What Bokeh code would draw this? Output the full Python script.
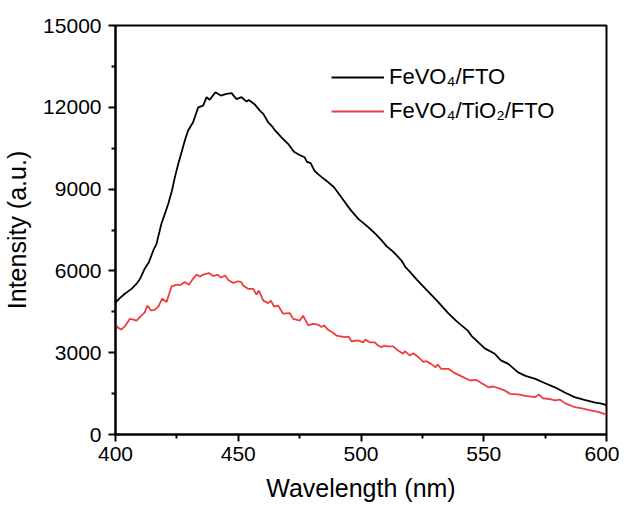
from bokeh.plotting import figure
from bokeh.models import FixedTicker, Legend, LegendItem, Range1d
from bokeh.embed import file_html
from bokeh.resources import INLINE

# ---- data ----
black_x = [400, 402, 403.8, 405, 406.5, 408.6, 410, 411.9, 413.6, 415.4, 416.7, 418.7, 420.1, 421.5, 423, 424.2,
           425.5, 426.9, 428.3, 429.6, 431.6, 433.7, 435.7, 437.1, 438.4, 440.7, 442.9, 445.2, 447.3, 449.3, 451.3,
           453.4, 454.3, 456.8, 458.8, 460.2, 462.2, 463.5, 465, 467.6, 470.3, 472, 473, 475, 477, 478, 479.5, 481,
           482.5, 484, 486, 489, 492, 494, 496, 499, 501, 503, 506, 508.5, 510.5, 512.5, 514, 516.5, 518, 519.5,
           523, 527, 531, 535.5, 539, 543.5, 545, 550.4, 554.5, 557, 560, 564, 567, 571, 575, 579, 583, 587, 591,
           595, 598, 600]
black_y = [4850, 5020, 5160, 5240, 5340, 5530, 5710, 6080, 6320, 6750, 6990, 7730, 8090, 8460, 8950, 9440, 9900,
           10350, 10800, 11150, 11450, 12000, 12060, 12370, 12280, 12550, 12430, 12490, 12520, 12300, 12370, 12210,
           12270, 12100, 11880, 11760, 11450, 11330, 11150, 10900, 10660, 10450, 10350, 10250, 10170, 10000, 9950,
           9680, 9550, 9440, 9300, 9070, 8700, 8450, 8210, 7900, 7750, 7600, 7350, 7110, 6900, 6750, 6620, 6380,
           6150, 6010, 5650, 5280, 4900, 4450, 4150, 3810, 3620, 3160, 2960, 2720, 2590, 2280, 2150, 2040, 1880,
           1730, 1540, 1370, 1270, 1180, 1130, 1080]

red_x = [400, 401, 402.4, 404, 405.8, 407, 408.6, 410.2, 411.9, 413, 414.4, 416, 417.5, 419, 420.8, 422.8, 424.8,
         426.6, 428.2, 429.9, 431.5, 433, 434.4, 435.7, 438, 439.8, 441.6, 442.9, 444.6, 446.2, 448, 450, 451.3,
         452, 454.1, 456.1, 457.4, 458.4, 460.2, 462.2, 463.3, 464.6, 466.2, 468.3, 471, 472.4, 475.1, 476.4,
         478.5, 480.5, 482.5, 483.9, 485, 486.6, 488.3, 490, 493.4, 495, 496.1, 498.8, 500.9, 501.8, 503.6, 505.6,
         507, 508.4, 509.4, 511, 513.1, 515.1, 517.2, 517.8, 519.9, 521.3, 523.3, 525.4, 526.7, 528.5, 530.4,
         531.2, 532.6, 535.6, 537.6, 541, 544.4, 547.1, 548.5, 551.9, 553.9, 556.6, 558.6, 560.7, 564, 567, 570.8,
         572.5, 574, 577, 579, 581, 583, 587.1, 590, 594, 597, 600]
red_y = [4030, 3920, 3850, 3990, 4240, 4220, 4180, 4330, 4480, 4730, 4550, 4570, 4700, 4980, 4860, 5430, 5490,
         5490, 5590, 5490, 5700, 5870, 5790, 5860, 5920, 5810, 5860, 5750, 5830, 5650, 5560, 5620, 5590, 5460,
         5340, 5340, 5130, 5280, 4910, 4820, 4910, 4690, 4730, 4430, 4450, 4240, 4180, 4360, 4000, 4060, 4030,
         3940, 4000, 3840, 3750, 3630, 3570, 3590, 3420, 3450, 3380, 3480, 3380, 3380, 3260, 3200, 3260, 3230,
         3230, 3080, 2960, 3060, 2900, 2980, 2840, 2660, 2690, 2590, 2470, 2570, 2410, 2410, 2280, 2130, 1980,
         2000, 1920, 1730, 1760, 1680, 1610, 1490, 1470, 1420, 1370, 1470, 1330, 1300, 1250, 1280, 1150, 1000,
         960, 880, 820, 730]

x_ticks = [400, 450, 500, 550, 600]
x_minor = [425, 475, 525, 575]
y_ticks = [0, 3000, 6000, 9000, 12000, 15000]
y_minor = [1500, 4500, 7500, 10500, 13500]

labels = ["FeVO\u2084/FTO", "FeVO\u2084/TiO\u2082/FTO"]
colors = ["#000000", "#ef3d3d"]

FONT = "Liberation Sans"

p = figure(frame_width=491, frame_height=409, output_backend="svg", toolbar_location=None,
           x_range=Range1d(400, 600), y_range=Range1d(0, 15000),
           min_border_left=114, min_border_right=13, min_border_top=25, min_border_bottom=60)
p.background_fill_color = "white"
p.border_fill_color = "white"
p.outline_line_color = "black"
p.outline_line_width = 2
p.xgrid.visible = False
p.ygrid.visible = False

r1 = p.line(black_x, black_y, line_color=colors[0], line_width=1.8)
r2 = p.line(red_x, red_y, line_color=colors[1], line_width=1.8)

p.xaxis.ticker = FixedTicker(ticks=x_ticks, minor_ticks=x_minor)
p.yaxis.ticker = FixedTicker(ticks=y_ticks, minor_ticks=y_minor)
p.xaxis.axis_label = "Wavelength (nm)"
p.yaxis.axis_label = "Intensity (a.u.)"
for ax in (p.xaxis[0], p.yaxis[0]):
    ax.axis_line_width = 2
    ax.axis_line_color = "black"
    ax.major_tick_line_color = "black"
    ax.minor_tick_line_color = "black"
    ax.major_tick_line_width = 2
    ax.minor_tick_line_width = 2
    ax.major_tick_out = 7
    ax.major_tick_in = 0
    ax.minor_tick_out = 4
    ax.minor_tick_in = 0
    ax.major_label_text_font = FONT
    ax.major_label_text_font_size = "21px"
    ax.major_label_text_color = "black"
    ax.axis_label_text_font = FONT
    ax.axis_label_text_font_size = "25px"
    ax.axis_label_text_font_style = "normal"
    ax.axis_label_text_color = "black"
p.yaxis.major_label_standoff = 7
p.xaxis.major_label_standoff = 5
p.yaxis.axis_label_standoff = 9
p.xaxis.axis_label_standoff = 10

legend = Legend(items=[LegendItem(label=labels[0], renderers=[r1]),
                       LegendItem(label=labels[1], renderers=[r2])],
                location=(216, 309), padding=0, margin=0, border_line_color=None,
                background_fill_alpha=0, glyph_width=53, glyph_height=28, label_height=28,
                spacing=6, label_standoff=5, label_text_font=FONT, label_text_font_size="22px",
                label_text_color="black")
p.add_layout(legend)

open("out.html", "w").write(file_html(p, INLINE))
